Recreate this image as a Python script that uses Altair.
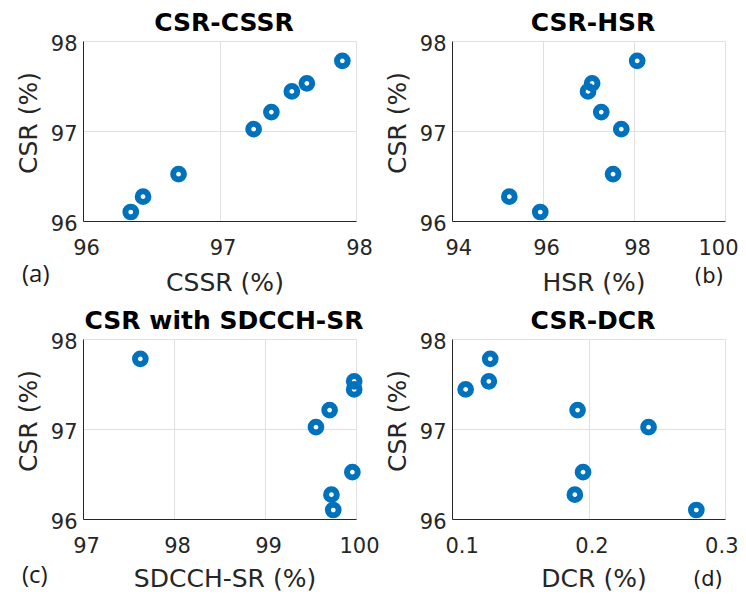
import altair as alt
import pandas as pd

# ---- data ----
csr = [96.10, 96.27, 96.52, 97.02, 97.21, 97.44, 97.53, 97.78]
cssr = [96.35, 96.44, 96.70, 97.25, 97.38, 97.53, 97.64, 97.90]
hsr = [95.94, 95.26, 97.54, 97.72, 97.28, 96.99, 97.08, 98.07]
sdcch = [99.75, 99.73, 99.96, 99.56, 99.71, 99.98, 99.98, 97.63]
dcr = [0.279, 0.190, 0.196, 0.244, 0.192, 0.110, 0.127, 0.128]

panel_titles = ["CSR-CSSR", "CSR-HSR", "CSR with SDCCH-SR", "CSR-DCR"]
x_titles = ["CSSR (%)", "HSR (%)", "SDCCH-SR (%)", "DCR (%)"]
y_title = "CSR (%)"
tags = ["(a)", "(b)", "(c)", "(d)"]
y_domain = [96, 98]
x_domains = [[96, 98], [94, 100], [97, 100], [0.1, 0.3]]
x_tick_counts = [2, 3, 3, 2]
x_formats = ["d", "d", "d", ".1f"]

df = pd.DataFrame({"csr": csr, "cssr": cssr, "hsr": hsr, "sdcch": sdcch, "dcr": dcr})
x_fields = ["cssr", "hsr", "sdcch", "dcr"]

BLUE = "#0072BD"
W, H = 273, 180

# tag placement (relative to each panel's plot area) and font
tag_pos = [(-61, 241, "Open Sans", 24), (242, 241.6, "DejaVu Sans", 21),
           (-61, 244, "Open Sans", 24), (241, 247, "DejaVu Sans", 21)]
x_title_y = [69, 69, 67, 67]
right_col = [False, True, False, True]


def panel(i):
    xaxis_kw = dict(tickCount=x_tick_counts[i], format=x_formats[i],
                    title=x_titles[i], titleX=141.5, titleY=x_title_y[i],
                    titleBaseline="alphabetic", titleAlign="center")
    if right_col[i]:
        xaxis_kw.update(labelFlush=True, labelFlushOffset=10)
    pts = alt.Chart(df).mark_point(
        filled=False, shape="circle", size=115, strokeWidth=6,
        color=BLUE, opacity=1
    ).encode(
        x=alt.X(f"{x_fields[i]}:Q",
                scale=alt.Scale(domain=x_domains[i], nice=False, zero=False),
                axis=alt.Axis(**xaxis_kw)),
        y=alt.Y("csr:Q",
                scale=alt.Scale(domain=y_domain, nice=False, zero=False),
                axis=alt.Axis(tickCount=2, format="d", title=y_title,
                              titleX=-46.5, titleY=81.5, titleAngle=270,
                              titleBaseline="alphabetic", titleAlign="center")),
    )
    ttl = alt.Chart(alt.Data(values=[{"t": panel_titles[i]}])).mark_text(
        font="DejaVu Sans", fontSize=25, fontWeight="bold", baseline="alphabetic",
        align="center", color="#000000"
    ).encode(text="t:N", x=alt.value(141), y=alt.value(-10.5))
    tx, ty, tf, ts = tag_pos[i]
    tag = alt.Chart(alt.Data(values=[{"t": tags[i]}])).mark_text(
        font=tf, fontSize=ts, baseline="alphabetic", align="left", color="#1a1a1a"
    ).encode(text="t:N", x=alt.value(tx), y=alt.value(ty))
    return alt.layer(pts, ttl, tag).properties(width=W, height=H)


chart = alt.concat(
    panel(0), panel(1), panel(2), panel(3),
    columns=2, spacing={"row": 118, "column": 96}, bounds="flush",
    autosize=alt.AutoSizeParams(type="none"),
    padding={"left": 75, "top": 33, "right": 655, "bottom": 551},
).configure_axis(
    labelFont="DejaVu Sans", labelFontSize=21, labelColor="#262626",
    titleFont="DejaVu Sans", titleFontSize=25, titleFontWeight="normal",
    titleColor="#262626", domainColor="#262626", domainWidth=1,
    gridColor="#e0e0e0", gridWidth=1, ticks=False, tickSize=0,
    labelFlush=False, labelOverlap=False, labelBound=False
).configure_axisX(
    labelPadding=16.7, labelOffset=3
).configure_axisY(
    labelPadding=6, labelOffset=3.5
).configure_view(
    strokeWidth=0
)

chart.save("out.html", embed_options={"renderer": "svg", "actions": False})
